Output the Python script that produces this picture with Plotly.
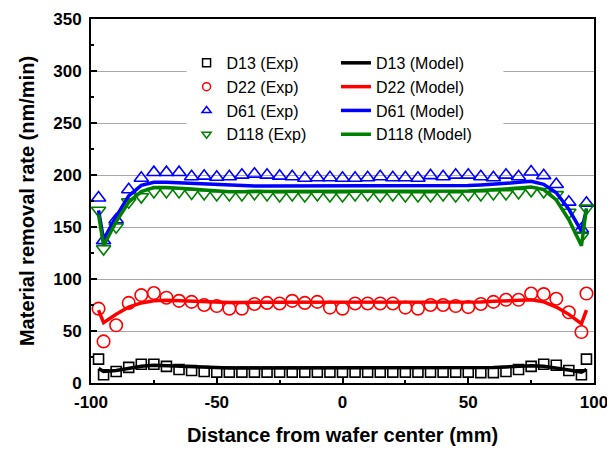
import plotly.graph_objects as go

# ---------------- data ----------------
x_pos = [-97, -95, -90, -85, -80, -75, -70, -65, -60, -55, -50, -45, -40, -35, -30, -25, -20,
         -15, -10, -5, 0, 5, 10, 15, 20, 25, 30, 35, 40, 45, 50, 55, 60, 65, 70, 75, 80, 85,
         90, 95, 97]

d13_exp = [23, 8, 11, 15, 18, 18, 16, 13, 12, 11, 10.5, 10.5, 10.5, 10.5, 10.5, 10.5, 10.5,
           10.5, 10.5, 10.5, 10.5, 10.5, 10.5, 10.5, 10.5, 10.5, 10.5, 10.5, 10.5, 10.5, 10.5,
           10, 10, 11, 13, 16, 18, 17, 12, 8, 23]
d22_exp = [71.5, 40, 55.5, 77, 84.5, 86.5, 82, 79, 78, 75, 74, 71.5, 71.5, 76, 77, 76.5, 79,
           77, 78, 72.5, 71.5, 76.5, 76.5, 76.5, 76.5, 72.5, 71.5, 75, 75, 74, 73, 76, 78, 80,
           80, 86, 85.5, 81, 68, 49, 86]
d61_exp = [178, 137, 157, 186, 197, 202.5, 202.5, 202.5, 198.5, 199, 198, 198.5, 200, 201, 200,
           199, 198.5, 197, 197.5, 197.5, 197, 197, 197.5, 198.5, 197.5, 197.5, 197, 199.5,
           198.5, 200, 200, 198.5, 197.5, 200, 198.5, 203, 199.5, 191, 174, 148, 173]
d118_exp = [166, 129, 150, 174, 179, 184, 184, 184, 182.5, 182, 181, 181, 181, 182, 181, 180,
            181, 180, 181, 180, 180, 181, 181, 180, 181, 180, 180, 180, 181, 180, 181, 181, 182,
            182, 183, 185, 184, 181, 164, 141, 168]

d13_model = [14, 11, 12, 14, 16, 17, 16.5, 16, 15.5, 15, 14.5, 14.5, 14.5, 14.5, 14.5, 14.5,
             14.5, 14.5, 14.5, 14.5, 14.5, 14.5, 14.5, 14.5, 14.5, 14.5, 14.5, 14.5, 14.5, 14.5,
             14.5, 14.5, 15, 15.5, 16, 16.5, 16, 14.5, 12.5, 10.5, 13]
d22_model = [70, 58, 66, 73, 77, 79, 79.5, 79, 78.5, 78, 77.5, 77.5, 77.5, 77.5, 77.5, 77.5,
             77.5, 77.5, 77.5, 77.5, 77.5, 77.5, 77.5, 77.5, 77.5, 77.5, 77.5, 77.5, 77.5, 77.5,
             77.5, 78, 78.5, 79, 80, 80, 78, 73, 66, 57, 70]
d61_model = [166, 138, 160, 180, 190, 193, 193, 192.5, 192, 191, 190.5, 190, 190, 189.5, 189.5,
             189.5, 189.5, 189.5, 189.5, 189.5, 189.5, 189.5, 189.5, 189.5, 189.5, 189.5, 189.5,
             189.5, 189.5, 190, 190, 190.5, 191, 192, 193, 194, 191, 183, 167, 146, 167]
d118_model = [162, 132, 155, 174, 184, 188, 188, 187.5, 186.5, 185.5, 184.5, 184, 184, 184, 184,
              184, 184, 184, 184, 184, 184, 184, 184, 184, 184, 184, 184, 184, 184, 184, 184.5,
              185, 185.5, 186.5, 187.5, 188.5, 186, 176, 157, 132, 168]

names = ["D13", "D22", "D61", "D118"]
colors = ["#000000", "#ff0000", "#0000ff", "#008000"]
symbols = ["square-open", "circle-open", "triangle-up-open", "triangle-down-open"]
msizes = [10, 12.5, 12.5, 12.5]
exp_series = [d13_exp, d22_exp, d61_exp, d118_exp]
model_series = [d13_model, d22_model, d61_model, d118_model]

x_ticks = [-100, -50, 0, 50, 100]
x_tick_text = ["-100", "-50", "0", "50", "100"]
y_ticks = [0, 50, 100, 150, 200, 250, 300, 350]

FONT = "Arial, Liberation Sans, sans-serif"

fig = go.Figure()
# experimental points (legend entries drawn by small-marker legend-only companions)
for n, c, s, ms, ys in zip(names, colors, symbols, msizes, exp_series):
    fig.add_trace(go.Scatter(
        x=x_pos, y=ys, mode="markers", name=f"{n} (Exp)", legend="legend",
        legendgroup=n, showlegend=False,
        marker=dict(symbol=s, size=ms, color=c, line=dict(width=1.6, color=c)),
    ))
for n, c, s in zip(names, colors, symbols):
    fig.add_trace(go.Scatter(
        x=[None], y=[None], mode="markers", name=f"{n} (Exp)", legend="legend",
        legendgroup=n,
        marker=dict(symbol=s, size=8, color=c, line=dict(width=1.5, color=c)),
    ))
for n, c, ys in zip(names, colors, model_series):
    fig.add_trace(go.Scatter(
        x=x_pos, y=ys, mode="lines", name=f"{n} (Model)", legend="legend2",
        line=dict(color=c, width=3.5),
    ))

axis_common = dict(
    showline=True, linecolor="black", linewidth=2, mirror=True,
    ticks="inside", ticklen=6, tickwidth=1.5, tickcolor="black",
    tickfont=dict(family=FONT, size=17, color="black", weight="bold"),
    zeroline=False, automargin=False,
)
fig.update_xaxes(
    range=[-100, 100], tickvals=x_ticks, ticktext=x_tick_text, showgrid=False,
    minor=dict(dtick=25, ticks="inside", ticklen=3, tickwidth=1.5, tickcolor="black"),
    title=dict(text="Distance from wafer center (mm)", standoff=17,
               font=dict(family=FONT, size=20, color="black", weight="bold")),
    ticklabelstandoff=3,
    **axis_common,
)
fig.update_yaxes(
    range=[0, 350], tickvals=y_ticks, showgrid=True, gridcolor="#a8a8a8", gridwidth=1,
    minor=dict(dtick=25, ticks="inside", ticklen=3, tickwidth=1.5, tickcolor="black"),
    title=dict(text="Material removal rate (nm/min)", standoff=13,
               font=dict(family=FONT, size=20, color="black", weight="bold")),
    ticklabelstandoff=4,
    **axis_common,
)

# white legend backdrop (no data lies there) so the two legend columns read as one box
fig.add_shape(type="rect", xref="paper", yref="paper", x0=0.19, x1=0.82, y0=0.665, y1=0.93,
              fillcolor="white", line=dict(width=0), layer="above")

leg_font = dict(family=FONT, size=16, color="black")
# the page body adds an 8 px offset, so the figure is sized to fill the rest of the window
fig.update_layout(
    width=607, height=443,
    margin=dict(l=83, r=21, t=11, b=68),
    paper_bgcolor="white", plot_bgcolor="white",
    legend=dict(x=0.19, y=0.926, xanchor="left", yanchor="top", bgcolor="white",
                font=leg_font, tracegroupgap=0),
    legend2=dict(x=0.487, y=0.926, xanchor="left", yanchor="top", bgcolor="white",
                 font=leg_font, tracegroupgap=0),
    showlegend=True,
)

fig.write_html("out.html")
